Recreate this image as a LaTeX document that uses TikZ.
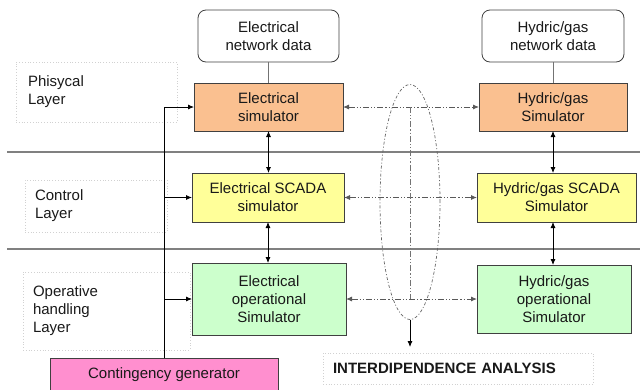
\documentclass[tikz,border=0pt]{standalone}
\usepackage{fontspec}
\setmainfont{Liberation Sans}
\usetikzlibrary{arrows.meta,shapes.geometric}
\definecolor{orng}{HTML}{FAC090}
\definecolor{yell}{HTML}{FFFF99}
\definecolor{grn}{HTML}{CCFFCC}
\definecolor{pnk}{HTML}{FF8FCF}
\begin{document}
\begin{tikzpicture}[x=1pt,y=-1pt,
  font=\fontsize{15}{18}\selectfont,
  box/.style={draw=black!75, line width=0.8pt, inner sep=0pt, outer sep=0pt, align=center, text=black!90},
  databox/.style={box, rounded corners=8pt, fill=white},
  layerbox/.style={draw=black!18, dotted, line width=0.8pt, align=left, inner ysep=0pt, outer sep=0pt, text=black!90},
  tip/.tip={Latex[length=6pt,width=5pt]},
  arr/.style={-tip, line width=0.8pt},
  darr/.style={tip-tip, line width=0.8pt},
  ddarr/.style={tip-tip, line width=0.9pt, draw=black!65, dash pattern=on 6pt off 2pt on 1.2pt off 2pt on 1.2pt off 2pt},
  ddline/.style={line width=0.9pt, draw=black!55, dash pattern=on 6pt off 2pt on 1.2pt off 2pt on 1.2pt off 2pt},
  ellstyle/.style={ellipse, draw=black!60, line width=0.7pt, dash pattern=on 3pt off 2pt on 1pt off 2pt, minimum width=60pt, minimum height=235pt, inner sep=0pt},
  sepline/.style={draw=black!50, line width=1.2pt},
  feed/.style={draw=black!60, line width=0.8pt}]
\useasboundingbox (0,0) rectangle (640,389);

% separator lines
\coordinate (s1a) at (7,152); \coordinate (s1b) at (640,152);
\coordinate (s2a) at (7,249); \coordinate (s2b) at (640,249);
\draw[sepline] (s1a) -- (s1b);
\draw[sepline] (s2a) -- (s2b);

% layer labels
\node[layerbox, inner xsep=12pt, text width=137pt, minimum height=60pt] (lp) at (96.5,92) {Phisycal\\Layer};
\node[layerbox, inner xsep=10pt, text width=122pt, minimum height=52pt] (lc) at (96,206) {Control\\Layer};
\node[layerbox, inner xsep=10pt, text width=147pt, minimum height=78pt] (lo) at (106.5,311) {Operative\\handling\\Layer};

% interdependence ellipse
\node[ellstyle] (ell) at (410,202) {};

% boxes
\node[databox, minimum width=141pt, minimum height=52pt] (ed) at (268.5,36) {Electrical\\network data};
\node[databox, minimum width=142pt, minimum height=52pt] (hd) at (553,36) {Hydric/gas\\network data};
\node[box, fill=orng, minimum width=149pt, minimum height=48pt] (es) at (268.5,107) {Electrical\\simulator};
\node[box, fill=orng, minimum width=148pt, minimum height=48pt] (hs) at (553,107) {Hydric/gas\\Simulator};
\node[box, fill=yell, minimum width=152pt, minimum height=49pt] (esc) at (268,197.5) {Electrical SCADA\\simulator};
\node[box, fill=yell, minimum width=159pt, minimum height=49pt] (hsc) at (556.5,197.5) {Hydric/gas SCADA\\Simulator};
\node[box, fill=grn, minimum width=154pt, minimum height=72pt] (eop) at (269,299) {Electrical\\operational\\Simulator};
\node[box, fill=grn, minimum width=154pt, minimum height=68pt] (hop) at (554,299) {Hydric/gas\\operational\\Simulator};
\node[box, fill=pnk, minimum width=228pt, minimum height=38pt, text depth=8pt] (cg) at (164,377) {Contingency generator};
\node[layerbox, inner xsep=10pt, text width=250pt, minimum height=31pt, font=\fontsize{15}{18}\selectfont\bfseries] (ia) at (458,368.5) {INTERDIPENDENCE ANALYSIS};

% data to simulators
\draw[draw=black!55, line width=0.8pt] (ed.south) -- (es.north);
\draw[draw=black!55, line width=0.8pt] (hd.south) -- (hs.north);

% vertical layer arrows
\draw[darr] (es.south) -- (es.south |- esc.north);
\draw[darr] (esc.south) -- (esc.south |- eop.north);
\draw[darr] (hs.south) -- (hs.south |- hsc.north);
\draw[darr] (hs.south |- hsc.south) -- (hs.south |- hop.north);

% interdependence arrows
\draw[ddarr] (es.east) -- (hs.west);
\draw[ddarr] (esc.east) -- (hsc.west);
\draw[ddarr] (eop.east) -- (hop.west);
\draw[ddline] (ell.center |- es.east) -- (ell.center |- eop.east);
\coordinate (iatop) at (410,347);
\draw[arr] (ell.south) -- (iatop);

% contingency feed
\draw[arr] (cg.north) |- (es.west);
\draw[arr] (cg.north) |- (esc.west);
\draw[arr] (cg.north) |- (eop.west);
\end{tikzpicture}
\end{document}
